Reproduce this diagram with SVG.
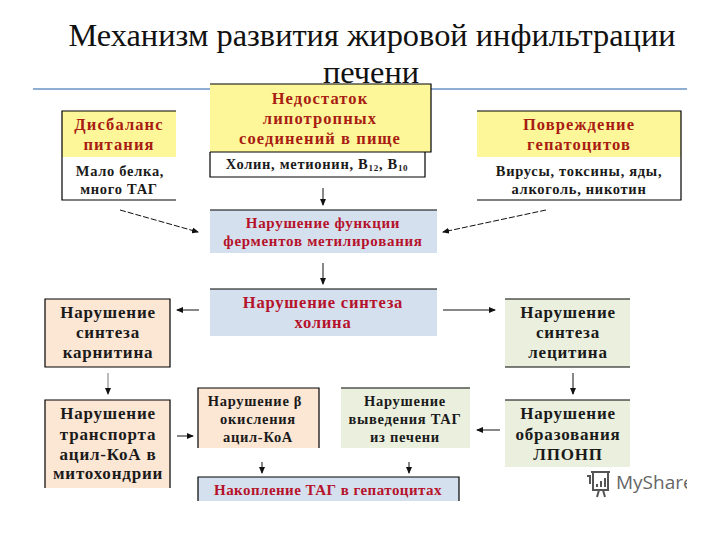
<svg xmlns="http://www.w3.org/2000/svg" width="720" height="540" viewBox="0 0 720 540">
<style>
text{font-family:"Liberation Serif","Times New Roman",serif;text-anchor:middle}
.t{font-size:32.4px;fill:#111}
.b{font-weight:bold;font-size:17px;letter-spacing:.8px;fill:#1a1a1a}
.s{font-weight:bold;font-size:14.5px;letter-spacing:.7px;fill:#1a1a1a}
.r{font-weight:bold;font-size:16.5px;letter-spacing:1.1px;fill:#a81c12}
.c{font-weight:bold;font-size:15px;letter-spacing:.7px;fill:#b5122b}
.h{font-weight:bold;font-size:16.5px;letter-spacing:.8px;fill:#b5122b}
.n{font-weight:bold;font-size:15px;letter-spacing:.45px;fill:#b5122b}
.l{fill:none;stroke:#000;stroke-width:1.2}
.y{fill:#fdf79a}.bl{fill:#d5e0ef}.p{fill:#fce6d4}.g{fill:#ebf0de}
.a{fill:none;stroke:#111;stroke-width:1;marker-end:url(#m)}
.d{stroke-dasharray:6 2}
</style>
<defs><marker id="m" markerUnits="userSpaceOnUse" markerWidth="7" markerHeight="6" refX="6" refY="3" orient="auto"><path d="M0 0L7 3L0 6Z" fill="#111"/></marker></defs>
<rect width="720" height="540" fill="#fff"/>
<g id="title">
<text class="t" x="372" y="46">Механизм развития жировой инфильтрации</text>
<text class="t" x="371" y="83">печени</text>
<path d="M33 89H687" stroke="#8faed4" stroke-width="2"/>
</g>
<g id="node-disbalance">
<rect class="y" x="62" y="111" width="114" height="46"/>
<path class="l" d="M176 111H62V200H176"/>
<text class="r" x="119" y="130">Дисбаланс</text><text class="r" x="119" y="150">питания</text>
<text class="s" x="120" y="176">Мало белка,</text><text class="s" x="119" y="194">много ТАГ</text>
</g>
<g id="node-nedostatok">
<path class="l" d="M210 152V177H425V152"/>
<rect class="y" x="210" y="84" width="221" height="68"/>
<path class="l" d="M210 84H431V152H210" stroke-width="1.5"/>
<text class="r" x="320" y="104">Недостаток</text><text class="r" x="320" y="124">липотропных</text><text class="r" x="320" y="144">соединений в пище</text>
<text class="s" x="317" y="169">Холин, метионин,  В<tspan font-size="9" dy="2">12</tspan><tspan dy="-2">, В</tspan><tspan font-size="9" dy="2">10</tspan></text>
</g>
<g id="node-povrezhdenie">
<rect class="y" x="477" y="111" width="204" height="46"/>
<path class="l" d="M477 111H681V200H477"/>
<text class="r" x="579" y="130">Повреждение</text><text class="r" x="579" y="150">гепатоцитов</text>
<text class="s" x="579" y="176">Вирусы, токсины, яды,</text><text class="s" x="579" y="194">алкоголь, никотин</text>
</g>
<g id="node-fermenty">
<rect class="bl" x="210" y="210" width="227" height="43"/><path class="l" d="M210 210H437"/>
<text class="c" x="323" y="228">Нарушение функции</text><text class="c" x="323" y="246">ферментов метилирования</text>
</g>
<g id="node-holin">
<rect class="bl" x="210" y="289" width="227" height="47"/><path class="l" d="M210 289H437"/>
<text class="h" x="323" y="308">Нарушение синтеза</text><text class="h" x="323" y="328">холина</text>
</g>
<g id="node-karnitin">
<rect class="p" x="45" y="299" width="125" height="68"/><path class="l" d="M45 299H170V367H45Z"/>
<text class="b" x="108" y="318">Нарушение</text><text class="b" x="108" y="338">синтеза</text><text class="b" x="108" y="358">карнитина</text>
</g>
<g id="node-transport">
<rect class="p" x="45" y="400" width="125" height="88"/><path class="l" d="M45 488V400H170V488"/>
<text class="b" x="108" y="419">Нарушение</text><text class="b" x="108" y="440">транспорта</text><text class="b" x="108" y="460">ацил-КоА в</text><text class="b" x="108" y="479">митохондрии</text>
</g>
<g id="node-beta">
<rect class="p" x="198" y="388" width="121" height="60"/><path class="l" d="M198 448V388H319V448"/>
<text class="s" x="255" y="406">Нарушение β</text><text class="s" x="258" y="424">окисления</text><text class="s" x="258" y="442">ацил-КоА</text>
</g>
<g id="node-vyvedenie">
<rect class="g" x="341" y="388" width="129" height="60"/><path class="l" d="M341 388H470"/>
<text class="s" x="405" y="406">Нарушение</text><text class="s" x="405" y="424">выведения  ТАГ</text><text class="s" x="405" y="442">из печени</text>
</g>
<g id="node-lecitin">
<rect class="g" x="505" y="299" width="125" height="68"/><path class="l" d="M505 299H630M505 367H630"/>
<text class="b" x="568" y="318">Нарушение</text><text class="b" x="568" y="338">синтеза</text><text class="b" x="568" y="358">лецитина</text>
</g>
<g id="node-lponp">
<rect class="g" x="505" y="400" width="125" height="67"/><path class="l" d="M505 400H630"/>
<text class="b" x="568" y="419">Нарушение</text><text class="b" x="568" y="440">образования</text><text class="b" x="568" y="460">ЛПОНП</text>
</g>
<g id="node-nakoplenie">
<rect class="bl" x="198" y="477" width="261" height="24"/><path class="l" d="M198 501V477H459V501"/>
<text class="n" x="328" y="495">Накопление ТАГ в гепатоцитах</text>
</g>
<g id="connectors">
<path class="a d" d="M120 210L198 232"/>
<path class="a d" d="M546 210L443 232"/>
<path class="a" d="M323 188V205"/>
<path class="a" d="M323 263V284"/>
<path class="a" d="M199 310H177"/>
<path class="a" d="M443 310H495"/>
<path class="a" d="M108 373V394" style="stroke:#777"/>
<path class="a" d="M177 436H193"/>
<path class="a" d="M262 462V473"/>
<path class="a" d="M409 462V473"/>
<path class="a" d="M573 373V394"/>
<path class="a" d="M500 430H477"/>
</g>
<g id="logo">
<path d="M591 472H610M593 472V490H608V472M587 476H590V484M597 497L599 490M605 497L603 490" fill="none" stroke="#555" stroke-width="2"/>
<path d="M597 487V484M601 487V481M605 487V478" stroke="#555" stroke-width="2"/>
<text x="616" y="489" style="font-family:'Open Sans','Liberation Sans',sans-serif;font-size:19px;fill:#666;text-anchor:start">MyShare</text>
<rect x="687" y="465" width="33" height="35" fill="#fff"/>
</g>
</svg>
